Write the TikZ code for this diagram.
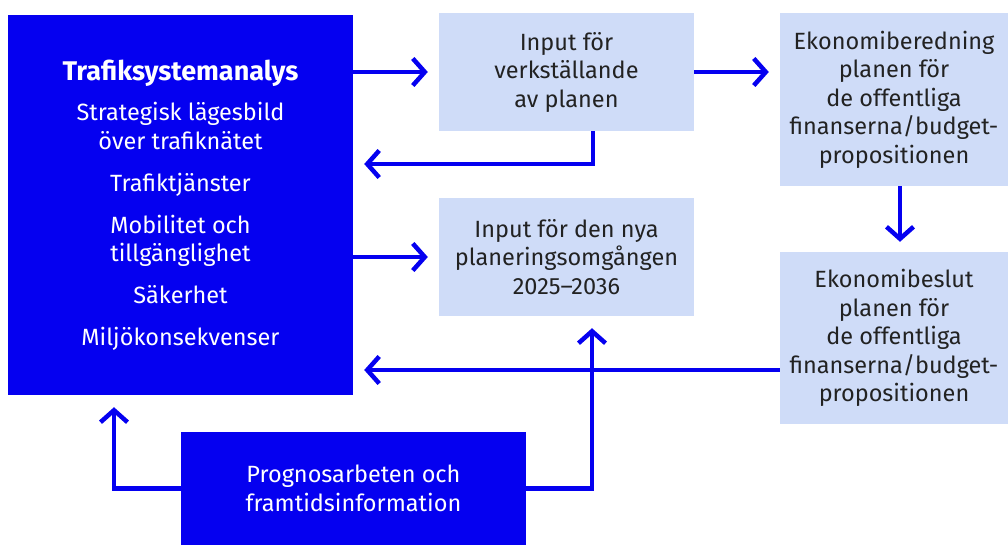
\documentclass[tikz,border=0pt]{standalone}
\usepackage{fontspec}
\setsansfont{Fira Sans}
\usetikzlibrary{positioning,arrows.meta}
\definecolor{tvblue}{RGB}{5,0,240}
\definecolor{tvlight}{RGB}{207,220,248}
\definecolor{tvtext}{RGB}{34,34,34}

\begin{document}
\begin{tikzpicture}[
  x=1pt, y=-1pt,
  font=\sffamily\fontsize{23.5}{28.5}\selectfont,
  lightbox/.style={fill=tvlight, text=tvtext, align=center, inner sep=0pt},
  darkbox/.style={fill=tvblue, text=white, align=center, inner sep=0pt},
  flow/.style={-{Straight Barb[length=12pt, width=27pt]}, line width=4.5pt,
               tvblue, shorten >=11pt},
]
  \useasboundingbox (0,0) rectangle (1008,545);

  % Left column
  \node[darkbox, minimum width=345pt, minimum height=380pt] (tsa) at (180.5,205)
    {{\bfseries\fontsize{27}{28.5}\selectfont Trafiksystemanalys}\\[12pt]
     Strategisk lägesbild\\ över trafiknätet\\[13.5pt]
     Trafiktjänster\\[13.5pt]
     Mobilitet och\\ tillgänglighet\\[13.5pt]
     Säkerhet\\[13.5pt]
     Miljökonsekvenser};
  \node[darkbox, minimum width=345pt, minimum height=113pt] (prog) at (353.5,488.5)
    {Prognosarbeten och\\ framtidsinformation};

  % Middle column
  \node[lightbox, minimum width=255pt, minimum height=118pt] (verk) at (566.5,72)
    {Input för\\ verkställande\\ av planen};
  \node[lightbox, minimum width=255pt, minimum height=118pt] (nya) at (566.5,257)
    {Input för den nya\\ planeringsomgången\\ 2025–2036};

  % Right column
  \node[lightbox, minimum width=228pt, minimum height=173pt] (bered) at (894,99.5)
    {Ekonomiberedning\\ planen för\\ de offentliga\\ finanserna/budget-\\ propositionen};
  \node[lightbox, minimum width=228pt, minimum height=172pt] (beslut) at (894,338)
    {Ekonomibeslut\\ planen för\\ de offentliga\\ finanserna/budget-\\ propositionen};

  % Turning points
  \coordinate (back) at (593,164);
  \coordinate (down) at (900,0);
  \coordinate (ret) at (0,370);
  \coordinate (progl) at (114,0);
  \coordinate (progr) at (592,0);

  \draw[flow] (tsa.east |- verk) -- (verk.west);
  \draw[flow] (verk) -- (bered.west |- verk);
  \draw[flow, shorten >=11pt] (verk.south -| back) |- (tsa.east |- back);
  \draw[flow] (tsa.east |- nya) -- (nya.west);
  \draw[flow, shorten >=10pt] (bered.south -| down) -- (beslut.north -| down);
  \draw[flow] (beslut.west |- ret) -- (tsa.east |- ret);
  \draw[flow, shorten >=12pt] (prog.west) -| (tsa.south -| progl);
  \draw[flow, shorten >=12pt] (prog.east) -| (nya.south -| progr);
\end{tikzpicture}
\end{document}
